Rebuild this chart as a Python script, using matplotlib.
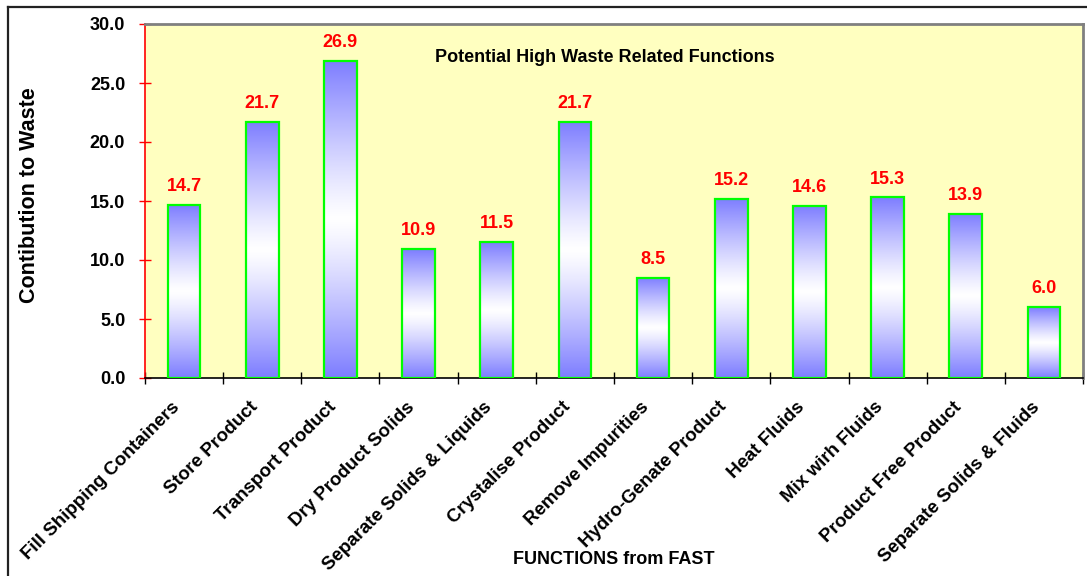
import numpy as np
import matplotlib
matplotlib.use("Agg")
import matplotlib.pyplot as plt
from matplotlib.lines import Line2D
from matplotlib.ticker import FixedLocator, FormatStrFormatter
from matplotlib.transforms import ScaledTranslation

categories = ["Fill Shipping Containers", "Store Product", "Transport Product",
              "Dry Product Solids", "Separate Solids & Liquids", "Crystalise Product",
              "Remove Impurities", "Hydro-Genate Product", "Heat Fluids",
              "Mix wirh Fluids", "Product Free Product", "Separate Solids & Fluids"]
values = [14.7, 21.7, 26.9, 10.9, 11.5, 21.7, 8.5, 15.2, 14.6, 15.3, 13.9, 6.0]
yticks = [0.0, 5.0, 10.0, 15.0, 20.0, 25.0, 30.0]

plt.rcParams['font.family'] = ['Liberation Sans', 'DejaVu Sans']
plt.rcParams['font.weight'] = 'bold'

W, H = 1087, 576
fig = plt.figure(figsize=(W / 100, H / 100), dpi=100)
fig.patch.set_facecolor('white')

left, right, top, bottom = 145, 1083, 24, 378
ax = fig.add_axes([left / W, 1 - bottom / H, (right - left) / W, (bottom - top) / H])
ax.set_facecolor('#FFFFC0')

n = len(categories)
x = np.arange(n)
bw = 0.42

# gradient: blue at top and bottom, white in the middle
t = np.linspace(0, 1, 256)
c = np.abs(2 * t - 1) ** 1.2
blue = np.array([0.49, 0.49, 1.0])
white = np.array([1.0, 1.0, 1.0])
grad = (white[None, :] * (1 - c[:, None]) + blue[None, :] * c[:, None])[:, None, :]

for xi, v in zip(x, values):
    ax.imshow(grad, extent=(xi - bw / 2, xi + bw / 2, 0, v), aspect='auto',
              origin='lower', zorder=2, interpolation='bilinear')
ax.bar(x, values, width=bw, facecolor='none', edgecolor='#00FF00',
       linewidth=1.6, zorder=3)

for xi, v in zip(x, values):
    ax.annotate(f"{v:.1f}", (xi, v), xytext=(0, 10), textcoords='offset points',
                ha='center', va='baseline', color='red', fontsize=13,
                fontweight='bold', zorder=4)

ax.set_xlim(-0.5, n - 0.5)
ax.set_ylim(0, 30)

ax.set_yticks(yticks)
ax.yaxis.set_major_formatter(FormatStrFormatter('%.1f'))
ax.tick_params(axis='y', direction='inout', length=8.5, width=1, color='red',
               labelsize=13, pad=10, labelcolor='black')

ax.set_xticks(x)
ax.set_xticklabels(categories, rotation=45, ha='right', va='center',
                   rotation_mode='anchor', fontsize=13.5, fontweight='bold')
ax.tick_params(axis='x', which='major', length=0, pad=19)
ax.xaxis.set_minor_locator(FixedLocator(np.arange(-0.5, n, 1.0)))
ax.tick_params(axis='x', which='minor', direction='inout', length=8, width=1,
               color='black')
shift = ScaledTranslation(-5 / 72, 0, fig.dpi_scale_trans)
for lab in ax.get_xticklabels():
    lab.set_transform(lab.get_transform() + shift)

for lab in ax.get_yticklabels():
    lab.set_fontweight('bold')

ax.spines['left'].set_color('red')
ax.spines['left'].set_linewidth(1.2)
ax.spines['bottom'].set_color('black')
ax.spines['bottom'].set_linewidth(1.2)
ax.spines['top'].set_color('#808080')
ax.spines['top'].set_linewidth(2)
ax.spines['right'].set_color('#808080')
ax.spines['right'].set_linewidth(2)

fig.text(605 / W, 1 - 57 / H, "Potential High Waste Related Functions",
         ha='center', va='center', fontsize=13, fontweight='bold')
fig.text(30 / W, 1 - 195 / H, "Contibution to Waste", rotation=90,
         ha='center', va='center', fontsize=15.5, fontweight='bold')
fig.text(614 / W, 1 - 560 / H, "FUNCTIONS from FAST",
         ha='center', va='center', fontsize=13, fontweight='bold')

# outer frame (top and left edges visible)
fig.add_artist(Line2D([8 / W, 1.0], [1 - 7 / H, 1 - 7 / H], color='#222222',
                      linewidth=1.6, transform=fig.transFigure))
fig.add_artist(Line2D([8 / W, 8 / W], [0, 1 - 7 / H], color='#222222',
                      linewidth=1.6, transform=fig.transFigure))

fig.savefig('out.png', dpi=100)
